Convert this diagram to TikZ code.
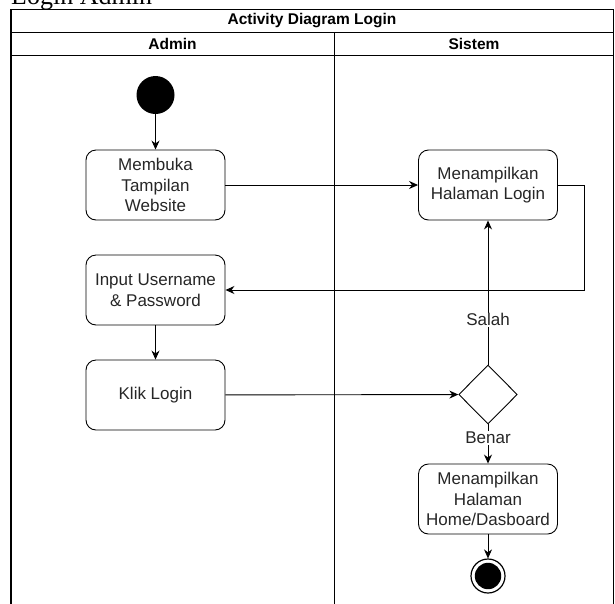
\documentclass[tikz,border=0pt]{standalone}
\usepackage{fontspec}
\setmainfont{Liberation Sans}
\newfontfamily\serifjudul{Liberation Serif}
\usetikzlibrary{shapes.geometric,arrows.meta}
\definecolor{teks}{HTML}{262626}
\tikzset{
  aksi/.style={draw, rounded corners=10pt, minimum width=139pt, minimum height=70pt,
    align=center, text=teks, font=\fontsize{17}{20.5}\selectfont, line width=0.9pt},
  keputusan/.style={draw, diamond, minimum width=58.5pt, minimum height=59pt,
    inner sep=0pt, line width=0.9pt},
  ket/.style={fill=white, text=teks, inner sep=1pt, font=\fontsize{17}{20.5}\selectfont},
  panah/.style={-{Stealth[length=9pt,width=8pt]}, line width=0.9pt},
  judul/.style={font=\bfseries\fontsize{15.5}{18}\selectfont}
}
\begin{document}
\begin{tikzpicture}[x=1pt,y=-1pt]
    \useasboundingbox (0,0) rectangle (615,603);

    % Kolom
    \def\xa{155.5}  % Admin
    \def\xs{488}    % Sistem

    % Judul di atas
    \node[anchor=base west, inner sep=0pt, font=\serifjudul\fontsize{26}{30}\selectfont] (atas) at (11,4) {Login Admin};

    % Kerangka swimlane
    \draw[line width=1.2pt] (11,615) -- (11,9.5) -- (613.5,9.5) -- (613.5,615);
    \draw[line width=1pt] (11,32) -- (613.5,32);
    \draw[line width=1pt] (11,55) -- (613.5,55);
    \draw[line width=1pt] (334,32) -- (334,615);
    \node[judul] (diagram) at (312,21) {Activity Diagram Login};
    \node[judul] (admin) at (172.5,43.5) {Admin};
    \node[judul] (sistem) at (474,43.5) {Sistem};

    % Node
    \node[circle, fill=black, minimum size=38pt, inner sep=0pt] (mulai) at (\xa,95) {};
    \node[aksi] (buka) at (\xa,185) {Membuka\\Tampilan\\Website};
    \node[aksi] (input) at (\xa,290) {Input Username\\\& Password};
    \node[aksi] (klik) at (\xa,395) {Klik Login};
    \node[aksi] (tampil) at (\xs,185) {Menampilkan\\Halaman Login};
    \node[keputusan] (cek) at (\xs,394.5) {};
    \node[aksi] (home) at (\xs,499) {Menampilkan\\Halaman\\Home/Dasboard};
    \node[circle, draw, line width=1.2pt, minimum size=34pt, inner sep=0pt] (selesai) at (\xs,576) {};
    \fill (selesai) circle (13.2pt);

    % Alur
    \draw[panah] (mulai) -- (buka);
    \draw[panah] (buka) -- (tampil);
    \draw[panah] (tampil.east) -- ++(26,0) |- (input.east);
    \draw[panah] (input) -- (klik);
    \draw[panah] (klik) -- (cek);
    \draw[panah] (cek) -- node[ket, pos=0.31] {Salah} (tampil);
    \draw[panah] (cek) -- node[ket, pos=0.34] {Benar} (home);
    \draw[panah] (home) -- (selesai);

\end{tikzpicture}
\end{document}
